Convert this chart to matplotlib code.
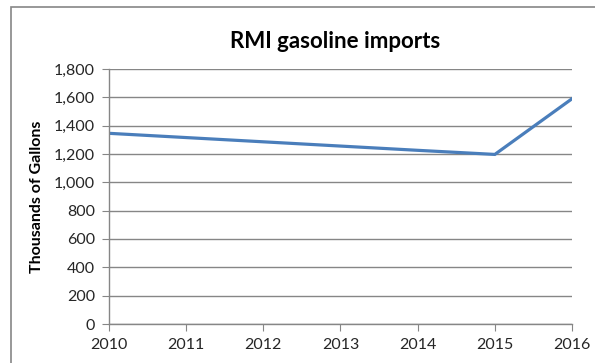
import matplotlib.pyplot as plt
from matplotlib.patches import Rectangle
from matplotlib.ticker import FuncFormatter

years = [2010, 2011, 2012, 2013, 2014, 2015, 2016]
imports = [1346, 1316, 1286, 1256, 1226, 1197, 1590]
y_ticks = [0, 200, 400, 600, 800, 1000, 1200, 1400, 1600, 1800]

plt.rcParams['font.family'] = ['Lato', 'DejaVu Sans']
grey = '#868686'

fig = plt.figure(figsize=(5.95, 3.63), dpi=100)
ax = fig.add_axes([109 / 595, 1 - 324 / 363, (572 - 109) / 595, (324 - 69) / 363])

# chart frame (runs off the right and bottom edges)
fig.patches.append(Rectangle((10.5 / 595, -0.1), 1.0, 1 - 7 / 363 + 0.1,
                             transform=fig.transFigure, fill=False,
                             edgecolor=grey, linewidth=1.2))

ax.plot(years, imports, color='#4A7EBB', linewidth=2.3, solid_joinstyle='miter')

ax.set_xlim(2010, 2016)
ax.set_ylim(0, 1800)
ax.set_xticks(years)
ax.set_yticks(y_ticks)
ax.yaxis.set_major_formatter(FuncFormatter(lambda v, p: f'{int(v):,}'))
ax.grid(axis='y', color=grey, linewidth=1)
ax.set_axisbelow(True)

for s in ['top', 'right']:
    ax.spines[s].set_visible(False)
for s in ['left', 'bottom']:
    ax.spines[s].set_color(grey)
    ax.spines[s].set_linewidth(1)

ax.tick_params(axis='both', direction='out', length=5, color=grey,
               labelsize=11.5, labelcolor='#262626')
ax.tick_params(axis='y', pad=5)
ax.tick_params(axis='x', pad=5)

ax.set_ylabel('Thousands of Gallons', fontsize=11.5, fontweight='bold', labelpad=7)
fig.text(0.5 + 38 / 595, 1 - 42 / 363, 'RMI gasoline imports', ha='center', va='center',
         fontsize=16, fontweight='bold')

fig.savefig('out.png', dpi=100)
